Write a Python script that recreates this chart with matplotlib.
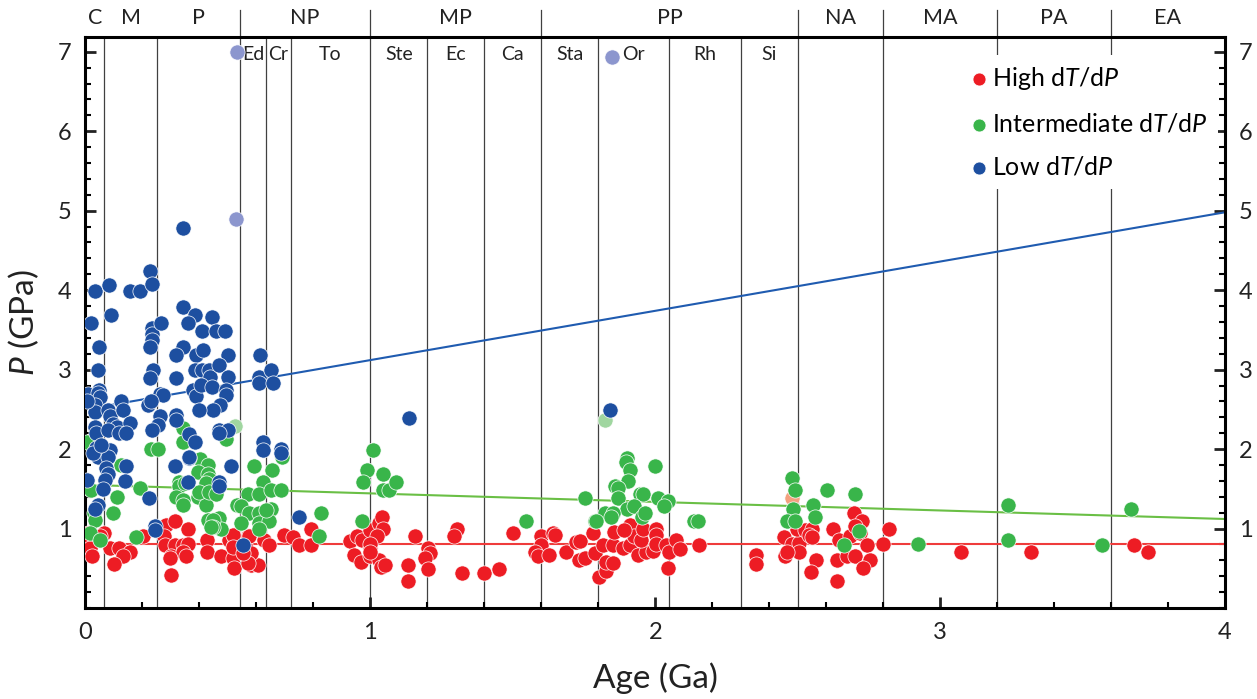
import numpy as np
import matplotlib
matplotlib.use('Agg')
import matplotlib.pyplot as plt

plt.rcParams['font.family'] = ['Lato', 'DejaVu Sans']
plt.rcParams['mathtext.fontset'] = 'custom'
plt.rcParams['mathtext.rm'] = 'Lato'
plt.rcParams['mathtext.it'] = 'Lato:italic'

# 数据: (年龄 Ga, 压力 GPa)
high_age = [0.010, 0.065, 0.016, 0.016, 0.022, 0.051, 0.086, 0.118, 0.156, 0.132, 0.101, 0.202,
            0.281, 0.313, 0.360, 0.274, 0.278, 0.313, 0.342, 0.360, 0.301, 0.342, 0.354, 0.298, 0.301,
            0.426, 0.426, 0.476, 0.505, 0.523, 0.540, 0.523, 0.534, 0.517, 0.520, 0.563, 0.563, 0.558,
            0.569, 0.575, 0.581, 0.604, 0.581, 0.569, 0.517, 0.517, 0.552, 0.628, 0.645, 0.698, 0.727,
            0.750, 0.791, 0.791, 0.927, 0.954, 0.969, 1.000, 1.030, 1.041, 0.942, 0.966, 1.000, 1.000,
            1.032, 1.039, 1.044, 1.024, 1.000, 1.000, 1.053, 1.156, 1.132, 1.132, 1.202, 1.210, 1.191,
            1.201, 1.304, 1.292, 1.323, 1.400, 1.452, 1.502, 1.599, 1.599, 1.578, 1.589, 1.627, 1.642,
            1.648, 1.686, 1.723, 1.735, 1.733, 1.752, 1.781, 1.789, 1.801, 1.828, 1.828, 1.851, 1.816,
            1.851, 1.855, 1.886, 1.910, 1.913, 1.939, 1.968, 1.927, 1.950, 1.956, 1.892, 1.991, 2.003,
            2.003, 2.003, 2.038, 2.044, 2.050, 2.073, 2.088, 2.152, 2.353, 2.353, 2.452, 2.481, 2.504,
            2.504, 2.457, 2.463, 2.498, 2.527, 2.551, 2.539, 2.551, 2.566, 2.547, 2.623, 2.644, 2.683,
            2.699, 2.725, 2.702, 2.720, 2.638, 2.673, 2.702, 2.743, 2.755, 2.731, 2.638, 2.819, 2.801,
            3.073, 3.320, 3.680, 3.730]
high_p = [0.94, 0.94, 0.88, 0.75, 0.65, 0.90, 0.75, 0.75, 0.70, 0.65, 0.55, 0.90,
          1.04, 1.09, 0.99, 0.91, 0.79, 0.79, 0.79, 0.81, 0.65, 0.70, 0.65, 0.63, 0.42,
          0.85, 0.70, 0.65, 0.85, 0.90, 0.79, 0.79, 0.71, 0.63, 0.50, 0.65, 0.75, 0.69,
          0.90, 0.91, 0.54, 0.54, 0.69, 0.56, 0.92, 0.77, 0.69, 0.86, 0.79, 0.92, 0.89,
          0.79, 0.79, 0.99, 0.84, 0.90, 0.86, 0.98, 1.07, 1.15, 0.67, 0.58, 0.75, 0.65,
          0.60, 0.52, 0.99, 0.90, 0.81, 0.71, 0.54, 0.91, 0.54, 0.34, 0.75, 0.69, 0.63,
          0.49, 1.00, 0.90, 0.44, 0.44, 0.49, 0.94, 0.91, 0.79, 0.70, 0.65, 0.67, 0.94,
          0.92, 0.70, 0.83, 0.84, 0.60, 0.63, 0.95, 0.69, 0.39, 0.46, 0.58, 0.57, 0.79,
          0.79, 0.96, 0.75, 0.79, 1.04, 0.67, 0.70, 0.90, 0.86, 1.00, 0.98, 0.72, 1.00,
          0.92, 0.81, 0.79, 0.50, 0.71, 0.85, 0.74, 0.79, 0.67, 0.55, 0.89, 0.81, 0.82,
          0.71, 0.65, 0.71, 1.00, 0.98, 1.00, 0.92, 0.89, 0.60, 0.45, 0.99, 0.85, 0.90,
          1.19, 1.10, 1.03, 0.94, 0.60, 0.65, 0.65, 0.79, 0.60, 0.50, 0.34, 0.99, 0.80,
          0.71, 0.70, 0.79, 0.70]

mid_age = [0.006, 0.010, 0.019, 0.030, 0.033, 0.016, 0.051, 0.097, 0.111, 0.126, 0.190, 0.179,
           0.231, 0.255, 0.342, 0.342, 0.494, 0.403, 0.429, 0.394, 0.429, 0.435, 0.330, 0.330,
           0.319, 0.342, 0.342, 0.394, 0.424, 0.348, 0.424, 0.400, 0.435, 0.459, 0.429, 0.470,
           0.476, 0.447, 0.447, 0.441, 0.593, 0.654, 0.622, 0.569, 0.608, 0.651, 0.686, 0.531,
           0.546, 0.575, 0.608, 0.610, 0.651, 0.643, 0.546, 0.634, 0.610, 0.689, 0.826, 0.820,
           1.010, 0.989, 0.974, 1.044, 1.044, 1.065, 1.090, 0.971, 1.548, 1.752, 1.787, 1.901,
           1.898, 1.910, 1.999, 1.904, 1.859, 1.871, 1.869, 1.948, 1.956, 2.009, 2.044, 2.030,
           1.901, 1.925, 1.822, 1.851, 1.845, 1.791, 1.953, 1.964, 2.137, 2.149, 2.481, 2.492,
           2.483, 2.463, 2.492, 2.603, 2.553, 2.562, 2.702, 2.717, 2.661, 2.924, 3.240, 3.240,
           3.570, 3.670]
mid_p = [2.09, 1.51, 1.48, 1.19, 1.11, 0.94, 0.86, 1.20, 1.40, 1.80, 1.51, 0.89,
         2.00, 2.00, 2.26, 2.09, 2.13, 1.88, 1.80, 1.71, 1.69, 1.62, 1.59, 1.53,
         1.40, 1.36, 1.30, 1.40, 1.30, 1.57, 1.57, 1.46, 1.46, 1.44, 1.11, 1.13,
         0.99, 1.11, 1.02, 1.02, 1.79, 1.74, 1.59, 1.44, 1.44, 1.49, 1.49, 1.30,
         1.28, 1.19, 1.19, 1.07, 1.25, 1.10, 1.07, 1.23, 1.00, 1.90, 1.19, 0.90,
         1.99, 1.74, 1.59, 1.69, 1.49, 1.49, 1.59, 1.09, 1.09, 1.39, 1.09, 1.89,
         1.84, 1.74, 1.79, 1.60, 1.54, 1.51, 1.39, 1.44, 1.44, 1.39, 1.35, 1.28,
         1.25, 1.28, 1.20, 1.20, 1.15, 1.09, 1.15, 1.20, 1.09, 1.09, 1.64, 1.49,
         1.24, 1.09, 1.09, 1.49, 1.29, 1.14, 1.44, 0.97, 0.79, 0.81, 1.30, 0.85,
         0.79, 1.25]

low_age = [0.009, 0.020, 0.034, 0.081, 0.090, 0.046, 0.044, 0.048, 0.045, 0.051, 0.032, 0.033,
           0.080, 0.086, 0.124, 0.132, 0.097, 0.109, 0.158, 0.033, 0.038, 0.080, 0.118, 0.144,
           0.038, 0.045, 0.086, 0.080, 0.144, 0.072, 0.080, 0.006, 0.068, 0.060, 0.139, 0.045,
           0.033, 0.157, 0.191, 0.226, 0.233, 0.233, 0.233, 0.233, 0.265, 0.226, 0.237, 0.228,
           0.260, 0.272, 0.220, 0.231, 0.260, 0.255, 0.235, 0.342, 0.342, 0.383, 0.360, 0.445,
           0.410, 0.459, 0.491, 0.342, 0.319, 0.389, 0.412, 0.500, 0.319, 0.385, 0.410, 0.435,
           0.437, 0.470, 0.500, 0.377, 0.389, 0.406, 0.443, 0.494, 0.494, 0.473, 0.447, 0.398,
           0.319, 0.319, 0.363, 0.383, 0.365, 0.316, 0.470, 0.500, 0.470, 0.511, 0.363, 0.360,
           0.470, 0.470, 0.222, 0.243, 0.243, 0.552, 0.614, 0.610, 0.610, 0.651, 0.657, 0.622,
           0.622, 0.686, 0.686, 0.750, 1.135, 1.840, 0.004, 0.028, 0.055]
low_p = [2.69, 3.59, 3.99, 4.06, 3.69, 3.29, 2.99, 2.74, 2.71, 2.66, 2.55, 2.47,
         2.49, 2.41, 2.60, 2.49, 2.32, 2.28, 2.33, 2.28, 2.20, 2.24, 2.20, 2.20,
         2.01, 1.90, 1.99, 1.90, 1.79, 1.76, 1.69, 1.61, 1.61, 1.50, 1.60, 1.30,
         1.24, 3.99, 3.99, 4.24, 4.08, 3.53, 3.45, 3.37, 3.59, 3.29, 2.99, 2.89,
         2.69, 2.68, 2.55, 2.60, 2.41, 2.30, 2.24, 4.78, 3.79, 3.69, 3.59, 3.66,
         3.49, 3.49, 3.49, 3.29, 3.19, 3.19, 3.25, 3.19, 2.89, 2.99, 2.99, 2.99,
         2.91, 3.06, 2.91, 2.74, 2.67, 2.81, 2.78, 2.74, 2.68, 2.55, 2.49, 2.49,
         2.43, 2.36, 2.19, 2.09, 1.89, 1.79, 2.24, 2.24, 2.20, 1.79, 1.90, 1.59,
         1.59, 1.53, 1.39, 1.03, 0.98, 0.79, 3.19, 2.91, 2.83, 2.99, 2.83, 2.09,
         1.99, 2.00, 1.95, 1.15, 2.39, 2.49, 2.60, 1.95, 2.05]

# 浅色点
pale_low_age = [0.533, 0.529, 1.850]
pale_low_p = [7.00, 4.89, 6.94]
pale_mid_age = [0.526, 1.822]
pale_mid_p = [2.29, 2.36]
pale_high_age = [2.481]
pale_high_p = [1.39]

# 趋势线端点
line_age = [0, 4]
low_line = [2.50, 4.98]
mid_line = [1.55, 1.12]
high_line = [0.80, 0.80]

# 地质年代
era_bounds = [0, 0.066, 0.252, 0.541, 1.0, 1.6, 2.5, 2.8, 3.2, 3.6, 4.0]
era_names = ['C', 'M', 'P', 'NP', 'MP', 'PP', 'NA', 'MA', 'PA', 'EA']
period_bounds = [0.541, 0.635, 0.72, 1.0, 1.2, 1.4, 1.6, 1.8, 2.05, 2.3, 2.5]
period_names = ['Ed', 'Cr', 'To', 'Ste', 'Ec', 'Ca', 'Sta', 'Or', 'Rh', 'Si']
inner_lines = [0.066, 0.252, 0.541, 0.635, 0.72, 1.0, 1.2, 1.4, 1.6, 1.8, 2.05, 2.3, 2.5, 2.8, 3.2, 3.6]
top_lines = [0.541, 1.0, 1.6, 2.5, 2.8, 3.2, 3.6]

RED = '#ED1C24'
GREEN = '#39B54A'
BLUE = '#1D4FA0'

fig = plt.figure(figsize=(12.57, 6.99), dpi=100)
ax = fig.add_axes([0.068, 0.1302, 0.9065, 0.8173])
ax.set_xlim(0, 4)
ax.set_ylim(0, 7.19)

for x in inner_lines:
    ax.axvline(x, color='#404040', lw=0.9, zorder=1)
for x in top_lines:
    ax.axvline(x, ymin=1, ymax=1.047, color='#404040', lw=0.9, clip_on=False, zorder=1)

# 年代标签
for i, name in enumerate(era_names):
    xm = (era_bounds[i] + era_bounds[i + 1]) / 2
    ax.text(xm, 1.033, name, transform=ax.get_xaxis_transform(), ha='center', va='center',
            fontsize=15.5, color='#222222')
for i, name in enumerate(period_names):
    xm = (period_bounds[i] + period_bounds[i + 1]) / 2
    ax.text(xm, 6.96, name, ha='center', va='center', fontsize=14, color='#222222', zorder=2)

ax.plot(line_age, low_line, color='#1F5BB0', lw=1.5, zorder=2)
ax.plot(line_age, mid_line, color='#6ABF45', lw=1.5, zorder=2)
ax.plot(line_age, high_line, color='#EF3B3B', lw=1.5, zorder=2)

kw = dict(s=120, edgecolors='white', linewidths=0.5, zorder=3)
ax.scatter(high_age, high_p, color=RED, label='High d$\\mathit{T}$/d$\\mathit{P}$', **kw)
ax.scatter(pale_high_age, pale_high_p, color='#F4A07E', **kw)
ax.scatter(mid_age, mid_p, color=GREEN, label='Intermediate d$\\mathit{T}$/d$\\mathit{P}$', **kw)
ax.scatter(pale_mid_age, pale_mid_p, color='#A0D6A0', **kw)
ax.scatter(low_age, low_p, color=BLUE, label='Low d$\\mathit{T}$/d$\\mathit{P}$', **kw)
ax.scatter(pale_low_age, pale_low_p, color='#8C96CE', **kw)

leg = ax.legend(loc='upper right', bbox_to_anchor=(0.994, 0.968), fontsize=18, frameon=True,
                facecolor='white', edgecolor='none', framealpha=1, labelspacing=0.82,
                handletextpad=0.05, markerscale=0.85, borderpad=0.4, handlelength=1.0,
                borderaxespad=0)
leg.set_zorder(5)

# 坐标轴
for s in ax.spines.values():
    s.set_linewidth(2.2)
ax.set_xticks([0, 1, 2, 3, 4])
ax.set_xticks(np.arange(0, 4.01, 0.2), minor=True)
ax.set_yticks([1, 2, 3, 4, 5, 6, 7])
ax.set_yticks(np.arange(0, 7.2, 0.2), minor=True)
ax.tick_params(axis='both', which='major', direction='in', length=8, width=2, labelsize=17,
               colors='#222222')
ax.tick_params(axis='both', which='minor', direction='in', length=4, width=1.5)
ax.tick_params(axis='y', which='both', left=True, right=True, labelright=True)
ax.tick_params(axis='x', which='both', top=False, pad=10)
ax.tick_params(axis='y', which='major', pad=10)

ax.set_xlabel('Age (Ga)', fontsize=24, labelpad=14, color='#222222')
ax.set_ylabel('$\\mathit{P}$ (GPa)', fontsize=24, labelpad=12, color='#222222')

plt.savefig('out.png', dpi=100)
